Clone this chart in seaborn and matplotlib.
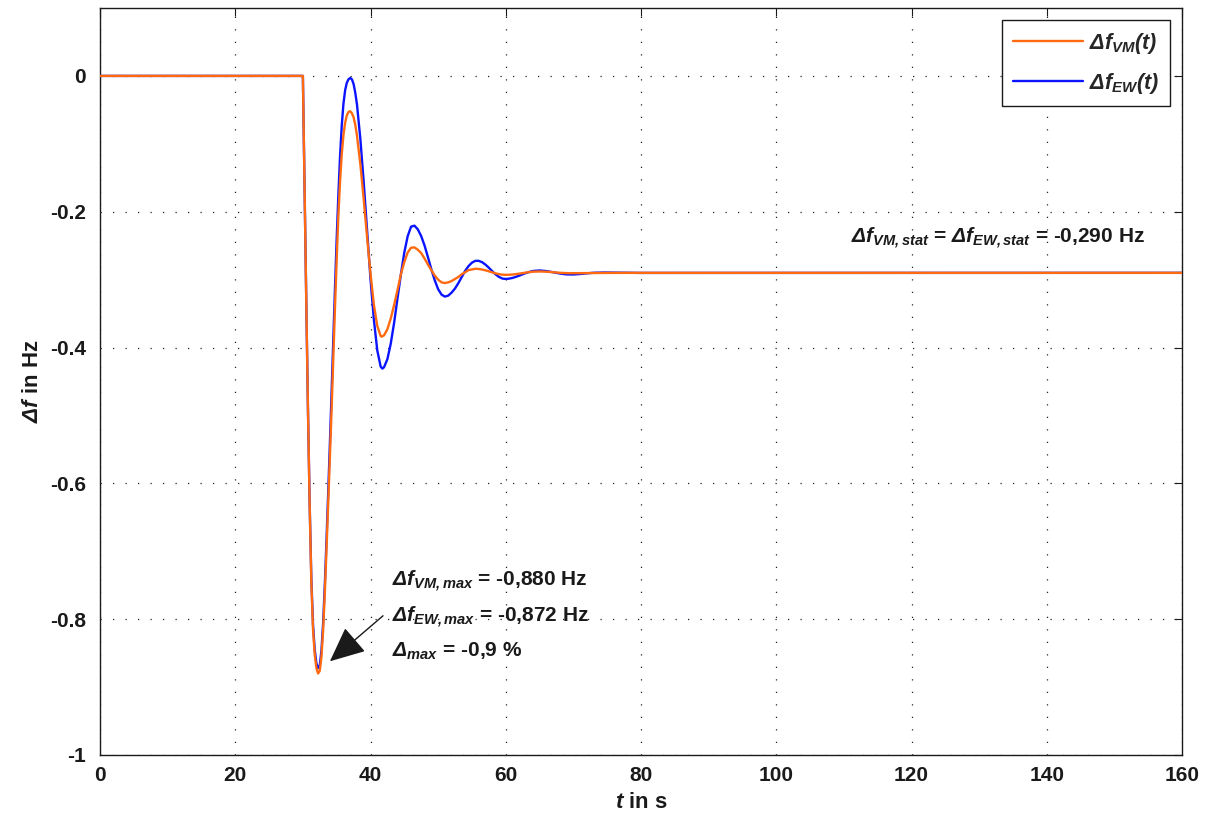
import numpy as np
import pandas as pd
import matplotlib
matplotlib.use("Agg")
import matplotlib.pyplot as plt
import seaborn as sns

# ---------------- data ----------------
t_vm = [0.0, 30.0, 30.25, 30.5, 30.75, 31.0, 31.25, 31.5, 31.75, 32.0, 32.25, 32.5, 32.75,
        33.0, 33.25, 33.5, 33.75, 34.0, 34.25, 34.5, 34.75, 35.0, 35.25, 35.5, 35.75,
        36.0, 36.25, 36.5, 36.75, 37.0, 37.25, 37.5, 37.75, 38.0, 38.5, 39.0, 39.5,
        40.0, 40.5, 41.0, 41.5, 41.65, 42.0, 42.5, 43.0, 43.5, 44.0, 44.5, 45.0, 45.5,
        46.0, 46.5, 47.0, 47.5, 48.0, 48.5, 49.0, 49.5, 50.0, 50.5, 51.0, 51.5, 52.0,
        52.5, 53.0, 53.5, 54.0, 54.5, 55.0, 55.5, 56.0, 56.5, 57.0, 57.5, 58.0, 58.5,
        59.0, 59.5, 60.0, 61.0, 62.0, 63.0, 64.0, 65.0, 66.0, 67.0, 68.0, 69.0, 70.0,
        75.0, 80.0, 160.0]
f_vm = [0.0, 0.0, -0.165, -0.33, -0.49, -0.63, -0.745, -0.815, -0.852, -0.872, -0.880, -0.876, -0.855,
        -0.815, -0.76, -0.695, -0.628, -0.56, -0.49, -0.415, -0.34, -0.27, -0.205, -0.155, -0.115,
        -0.087, -0.069, -0.058, -0.053, -0.052, -0.055, -0.061, -0.072, -0.088, -0.130, -0.182, -0.238,
        -0.291, -0.337, -0.368, -0.383, -0.384, -0.382, -0.373, -0.357, -0.337, -0.315, -0.292, -0.274, -0.260,
        -0.253, -0.2525, -0.256, -0.261, -0.269, -0.278, -0.286, -0.294, -0.300, -0.304, -0.305, -0.304, -0.302,
        -0.299, -0.296, -0.292, -0.289, -0.286, -0.285, -0.284, -0.2843, -0.2851, -0.2863, -0.2877, -0.2893, -0.2908,
        -0.2919, -0.2927, -0.293, -0.2925, -0.2912, -0.2896, -0.2883, -0.288, -0.2883, -0.2891, -0.2899, -0.2904, -0.2905,
        -0.2901, -0.290, -0.290]

t_ew = [0.0, 30.0, 30.25, 30.5, 30.75, 31.0, 31.25, 31.5, 31.75, 32.0, 32.25, 32.5, 32.75,
        33.0, 33.25, 33.5, 33.75, 34.0, 34.25, 34.5, 34.75, 35.0, 35.25, 35.5, 35.75,
        36.0, 36.25, 36.5, 36.75, 37.0, 37.25, 37.5, 37.75, 38.0, 38.5, 39.0, 39.5,
        40.0, 40.5, 41.0, 41.5, 41.75, 42.0, 42.5, 43.0, 43.5, 44.0, 44.5, 45.0, 45.5,
        46.0, 46.5, 47.0, 47.5, 48.0, 48.5, 49.0, 49.5, 50.0, 50.5, 51.0, 51.5, 52.0,
        52.5, 53.0, 53.5, 54.0, 54.5, 55.0, 55.5, 56.0, 56.5, 57.0, 57.5, 58.0, 58.5,
        59.0, 59.5, 60.0, 60.5, 61.0, 61.5, 62.0, 62.5, 63.0, 63.5, 64.0, 65.0, 66.0,
        67.0, 68.0, 69.0, 70.0, 71.0, 72.0, 73.0, 74.5, 80.0, 160.0]
f_ew = [0.0, 0.0, -0.165, -0.33, -0.49, -0.628, -0.74, -0.808, -0.845, -0.865, -0.872, -0.868, -0.846,
        -0.805, -0.748, -0.682, -0.612, -0.54, -0.465, -0.388, -0.312, -0.24, -0.175, -0.118, -0.073,
        -0.041, -0.021, -0.010, -0.005, -0.003, -0.005, -0.012, -0.025, -0.042, -0.093, -0.157, -0.228,
        -0.299, -0.359, -0.404, -0.428, -0.431, -0.429, -0.417, -0.394, -0.363, -0.327, -0.292, -0.260, -0.236,
        -0.222, -0.2205, -0.226, -0.236, -0.250, -0.267, -0.285, -0.301, -0.314, -0.322, -0.325, -0.3235, -0.319,
        -0.313, -0.305, -0.296, -0.287, -0.280, -0.275, -0.2723, -0.2723, -0.2743, -0.2779, -0.2825, -0.2875, -0.2923,
        -0.2960, -0.2984, -0.299, -0.2985, -0.2975, -0.2959, -0.2941, -0.2921, -0.2902, -0.2886, -0.2873, -0.2865, -0.2874,
        -0.2891, -0.2910, -0.2923, -0.2924, -0.2917, -0.2907, -0.2899, -0.2895, -0.2901, -0.290]

x_ticks = [0, 20, 40, 60, 80, 100, 120, 140, 160]
x_ticklabels = ["0", "20", "40", "60", "80", "100", "120", "140", "160"]
y_ticks = [-1.0, -0.8, -0.6, -0.4, -0.2, 0.0]
y_ticklabels = ["-1", "-0.8", "-0.6", "-0.4", "-0.2", "0"]

label_vm = r"$\Delta f_{VM}(t)$"
label_ew = r"$\Delta f_{EW}(t)$"
ann_max = [r"$\Delta f_{VM,max}$ = -0,880 Hz",
           r"$\Delta f_{EW,max}$ = -0,872 Hz",
           r"$\Delta_{max}$ = -0,9 %"]
ann_stat = r"$\Delta f_{VM,stat}$ = $\Delta f_{EW,stat}$ = -0,290 Hz"

# ---------------- style ----------------
sns.set_theme(style="white")
plt.rcParams["font.family"] = ["Liberation Sans", "DejaVu Sans"]
plt.rcParams["font.weight"] = "bold"
plt.rcParams["axes.unicode_minus"] = False
plt.rcParams["mathtext.fontset"] = "custom"
plt.rcParams["mathtext.rm"] = "Liberation Sans:italic:bold"
plt.rcParams["mathtext.it"] = "Liberation Sans:italic:bold"
plt.rcParams["mathtext.bf"] = "Liberation Sans:italic:bold"
plt.rcParams["mathtext.sf"] = "Liberation Sans:italic:bold"

C_VM = "#ff6a10"
C_EW = "#0a14ff"
FS = 15

fig = plt.figure(figsize=(12.1, 8.16), dpi=100)
ax = fig.add_axes([100 / 1210, 1 - 755 / 816, 1082 / 1210, 747 / 816])

df_ew = pd.DataFrame({"t": t_ew, "f": f_ew})
df_vm = pd.DataFrame({"t": t_vm, "f": f_vm})
sns.lineplot(data=df_ew, x="t", y="f", ax=ax, color=C_EW, lw=1.7,
             estimator=None, sort=False, zorder=3)
sns.lineplot(data=df_vm, x="t", y="f", ax=ax, color=C_VM, lw=1.7,
             estimator=None, sort=False, zorder=4)

ax.set_xlim(0, 160)
ax.set_ylim(-1, 0.1)
ax.set_xticks(x_ticks)
ax.set_xticklabels(x_ticklabels)
ax.set_yticks(y_ticks)
ax.set_yticklabels(y_ticklabels)
ax.tick_params(direction="in", length=6, width=0.8, color="k",
               top=True, right=True, labelsize=FS, labelcolor="k")
ax.tick_params(axis="x", pad=8)
ax.tick_params(axis="y", pad=10)
for lab in ax.get_xticklabels() + ax.get_yticklabels():
    lab.set_fontweight("bold")
for s in ax.spines.values():
    s.set_color("k")
    s.set_linewidth(1.0)
ax.grid(True, color="#222222", lw=0.9, linestyle=(0, (1, 9)))

ax.set_xlabel(r"$t$ in s", fontsize=FS + 1, fontweight="bold", color="k", labelpad=5)
ax.set_ylabel(r"$\Delta f$ in Hz", fontsize=FS + 1, fontweight="bold", color="k", labelpad=5)

# legend (VM first)
lines = ax.get_lines()
h_ew, h_vm = lines[0], lines[1]
leg = ax.legend([h_vm, h_ew], [label_vm, label_ew], loc="upper right",
                fontsize=FS + 0.5, frameon=True, fancybox=False, edgecolor="k",
                framealpha=1, handlelength=3.25, handletextpad=0.3,
                labelspacing=0.7, borderpad=0.5, borderaxespad=0.55)
leg.get_frame().set_linewidth(1.0)

# annotations
ann_y = [-0.745, -0.797, -0.848]
for txt, yy in zip(ann_max, ann_y):
    ax.text(43.2, yy, txt, fontsize=FS, fontweight="bold", color="k",
            ha="left", va="center")
ax.annotate("", xy=(34.0, -0.862), xytext=(41.85, -0.795),
            arrowprops=dict(arrowstyle="-|>,head_length=1.1,head_width=0.5",
                            color="k", lw=1.0, mutation_scale=20,
                            shrinkA=0, shrinkB=0))
ax.text(111.1, -0.239, ann_stat, fontsize=FS, fontweight="bold", color="k",
        ha="left", va="center")

fig.savefig("out.png", dpi=100, facecolor="white")
